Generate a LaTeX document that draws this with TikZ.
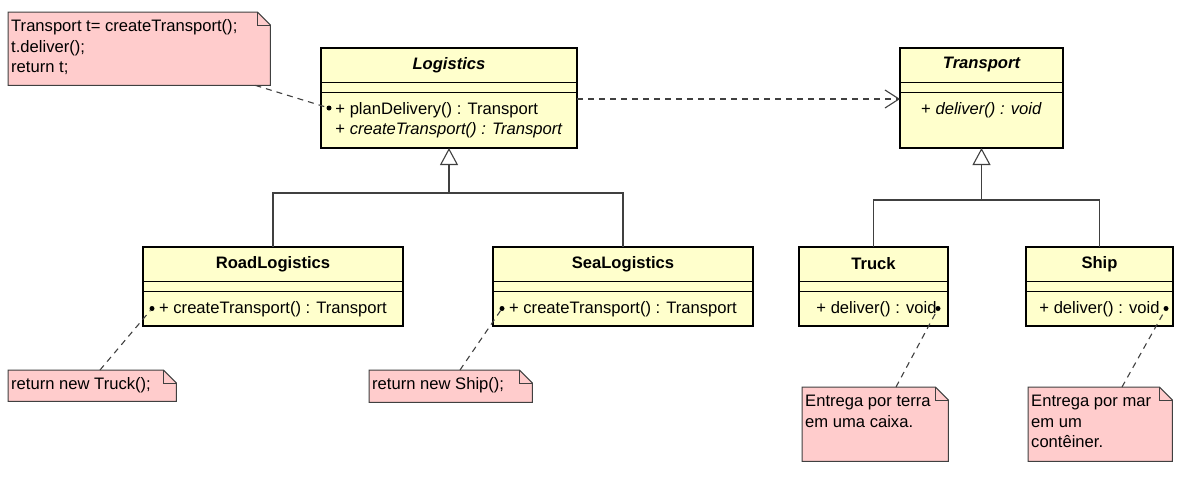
\documentclass[tikz,border=0pt]{standalone}
\usepackage{fontspec}
\setmainfont{Liberation Sans}
\usetikzlibrary{positioning,arrows.meta,backgrounds}
\definecolor{classYellow}{RGB}{255,255,204}
\definecolor{notePink}{RGB}{255,204,204}
\definecolor{lineGray}{RGB}{64,64,64}

\newcommand{\notetext}[3]{\parbox[t][#2][t]{#1}{\raggedright\strut #3}}

\begin{document}
\begin{tikzpicture}[
        x=1pt, y=1pt,
        font=\fontsize{16.6}{20.5}\selectfont,
        classname/.style={rectangle, draw, fill=classYellow, line width=0.8pt, outer sep=0pt, inner sep=0pt, minimum height=34pt, anchor=north, font=\fontsize{16.6}{20}\selectfont\bfseries},
        classattr/.style={rectangle, draw, fill=classYellow, line width=0.8pt, outer sep=0pt, inner sep=0pt, minimum height=10pt},
        classops/.style={rectangle, draw, fill=classYellow, line width=0.8pt, outer sep=0pt, inner ysep=0pt, align=left},
        oneline/.style={text height=22pt, text depth=13pt},
        frame/.style={draw=black, line width=1.6pt},
        note/.style={inner xsep=3pt, inner ysep=5pt, anchor=north west},
        notebox/.style={fill=notePink, draw=lineGray, line width=1pt},
        anchordot/.style={circle, fill=black, inner sep=0pt, minimum size=5pt},
        link/.style={draw=lineGray, line width=1.1pt, dash pattern=on 6pt off 5pt},
        tree/.style={draw=lineGray, line width=1.1pt},
        inherit/.style={draw=lineGray, line width=1.1pt, -{Triangle[open, length=17pt, width=18pt]}},
        depend/.style={draw=lineGray, line width=1.1pt, dash pattern=on 6pt off 5pt, -{Straight Barb[length=14pt, width=18pt]}}
    ]
    \useasboundingbox (0,0) rectangle (1184,-483);

    % Creators
    \node[classname, minimum width=256pt] (logname) at (449,-48) {\itshape Logistics};
    \node[classattr, minimum width=256pt, below=0pt of logname] (logattr) {};
    \node[classops, minimum width=256pt, minimum height=56pt, below=0pt of logattr] (logops) {+ planDelivery() : Transport\\+ \textit{createTransport() : Transport}};

    \node[classname, minimum width=260pt] (roadname) at (273,-247) {RoadLogistics};
    \node[classattr, minimum width=260pt, below=0pt of roadname] (roadattr) {};
    \node[classops, oneline, minimum width=260pt, below=0pt of roadattr] (roadops) {+ createTransport() : Transport};

    \node[classname, minimum width=260pt, right=90pt of roadname] (seaname) {SeaLogistics};
    \node[classattr, minimum width=260pt, below=0pt of seaname] (seaattr) {};
    \node[classops, oneline, minimum width=260pt, below=0pt of seaattr] (seaops) {+ createTransport() : Transport};

    % Products
    \node[classname, minimum width=163pt] (transname) at (981.5,-48) {\itshape Transport};
    \node[classattr, minimum width=163pt, below=0pt of transname] (transattr) {};
    \node[classops, oneline, text depth=34pt, minimum width=163pt, below=0pt of transattr] (transops) {+ \textit{deliver() : void}};

    \node[classname, minimum width=149pt, right=46pt of seaname] (truckname) {Truck};
    \node[classattr, minimum width=149pt, below=0pt of truckname] (truckattr) {};
    \node[classops, oneline, minimum width=149pt, below=0pt of truckattr] (truckops) {\hspace*{6pt}+ deliver() : void};

    \node[classname, minimum width=147pt, right=78pt of truckname] (shipname) {Ship};
    \node[classattr, minimum width=147pt, below=0pt of shipname] (shipattr) {};
    \node[classops, oneline, minimum width=147pt, below=0pt of shipattr] (shipops) {+ deliver() : void};

    \foreach \cls in {log,road,sea,trans,truck,ship}
        \draw[frame] (\cls name.north west) rectangle (\cls ops.south east);

    % Note anchors
    \node[anchordot] (logdot) at ([xshift=8pt,yshift=-16pt]logops.north west) {};
    \node[anchordot] (roaddot) at ([xshift=9pt]roadops.west) {};
    \node[anchordot] (seadot) at ([xshift=9pt]seaops.west) {};
    \node[anchordot] (truckdot) at ([xshift=-10pt]truckops.east) {};
    \node[anchordot] (shipdot) at ([xshift=-7pt]shipops.east) {};

    % Notes
    \node[note] (codenote) at (8,-12) {\notetext{256pt}{63pt}{Transport t= createTransport();\\t.deliver();\\return t;}};
    \node[note] (roadnote) at (8,-370) {\notetext{162pt}{21pt}{return new Truck();}};
    \node[note] (seanote) at (369,-370) {\notetext{157pt}{22pt}{return new Ship();}};
    \node[note] (trucknote) at (802,-387) {\notetext{140pt}{64pt}{Entrega por terra\\em uma caixa.}};
    \node[note] (shipnote) at (1028,-387) {\notetext{138pt}{64pt}{Entrega por mar\\em um\\contêiner.}};

    \begin{scope}[on background layer]
        \foreach \n in {codenote,roadnote,seanote,trucknote,shipnote} {
            \draw[notebox] (\n.north west) -- ([xshift=-13pt]\n.north east) -- ([yshift=-13pt]\n.north east) -- (\n.south east) -- (\n.south west) -- cycle;
            \draw[notebox, fill=none] ([xshift=-13pt]\n.north east) |- ([yshift=-13pt]\n.north east);
        }
    \end{scope}

    % Note links
    \draw[link] ([xshift=-15pt]codenote.south east) -- (logdot);
    \draw[link] ([xshift=92pt]roadnote.north west) -- (roaddot);
    \draw[link] ([xshift=91pt]seanote.north west) -- (seadot);
    \draw[link] ([xshift=94pt]trucknote.north west) -- (truckdot);
    \draw[link] ([xshift=94pt]shipnote.north west) -- (shipdot);

    % Generalization
    \coordinate (logjoin) at ([yshift=-45pt]logops.south);
    \coordinate (transjoin) at ([yshift=-52pt]transops.south);
    \draw[inherit] (logjoin) -- (logops.south);
    \draw[tree] (roadname.north) |- (logjoin) -| (seaname.north);
    \draw[inherit] (transjoin) -- (transops.south);
    \draw[tree] (truckname.north) |- (transjoin) -| (shipname.north);

    % Dependency
    \draw[depend] ([yshift=-7pt]logops.north east) -- ([yshift=-7pt]transops.north west);

\end{tikzpicture}
\end{document}
